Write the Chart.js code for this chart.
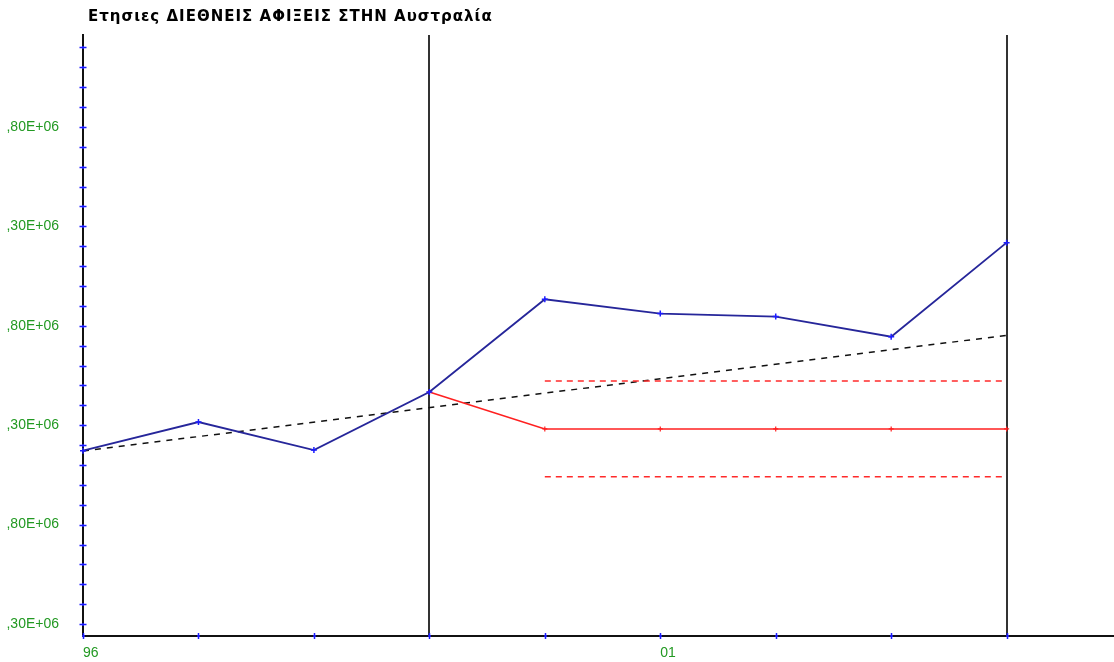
<!DOCTYPE html>
<html>
<head>
<meta charset="utf-8">
<script src="https://cdn.jsdelivr.net/npm/chart.js@4"></script>
<style>
  html, body { margin: 0; padding: 0; background: #fff; }
  #wrap { position: relative; width: 1114px; height: 662px; }
</style>
</head>
<body>
<div id="wrap"><canvas id="chart"></canvas></div>
<script>
// Annual international arrivals in Australia (persons)
const years      = [1996, 1997, 1998, 1999, 2000, 2001, 2002, 2003, 2004];
const arrivals   = [4172000, 4316000, 4175000, 4467000, 4933000, 4861000, 4846000, 4745000, 5218000];

// Forecast from 1999 onward, with its upper and lower bands
const forecastYears = [1999, 2000, 2001, 2002, 2003, 2004];
const forecast      = [4467000, 4281000, 4281000, 4281000, 4281000, 4281000];
const bandYears     = [2000, 2001, 2002, 2003, 2004];
const upperBand     = [4522000, 4522000, 4522000, 4522000, 4522000];
const lowerBand     = [4041000, 4041000, 4041000, 4041000, 4041000];

// Linear trend across the whole period
const trendYears = [1996, 2004];
const trend      = [4170000, 4752000];

// Vertical markers and labelled years
const markerYears = [1999, 2004];
const xTickLabels = { 1996: '96', 2001: '01' };

// Value-axis marks every 100 000, labelled every 500 000
const yTickValues = [3300000, 3400000, 3500000, 3600000, 3700000, 3800000, 3900000, 4000000,
                     4100000, 4200000, 4300000, 4400000, 4500000, 4600000, 4700000, 4800000,
                     4900000, 5000000, 5100000, 5200000, 5300000, 5400000, 5500000, 5600000,
                     5700000, 5800000, 5900000, 6000000, 6100000, 6200000];

const titleText = 'Ετησιες ΔΙΕΘΝΕΙΣ ΑΦΙΞΕΙΣ ΣΤΗΝ Αυστραλία';

const pts = (xs, ys) => xs.map((x, i) => ({ x: x, y: ys[i] }));

const TICK_BLUE = '#1c1cff';

// Title drawn at a fixed spot above the plot
const titlePlugin = {
  id: 'titleText',
  afterDraw(chart) {
    const ctx = chart.ctx;
    ctx.save();
    ctx.font = 'bold 15px "DejaVu Sans", sans-serif';
    if ('letterSpacing' in ctx) ctx.letterSpacing = '1px';
    ctx.fillStyle = '#000';
    ctx.textAlign = 'left';
    ctx.textBaseline = 'alphabetic';
    ctx.fillText(titleText, chart.chartArea.left + 5, 21);
    ctx.restore();
  }
};

// Vertical marker lines at selected years
const markerPlugin = {
  id: 'markers',
  beforeDatasetsDraw(chart) {
    const { ctx, chartArea, scales } = chart;
    ctx.save();
    ctx.strokeStyle = '#333';
    ctx.lineWidth = 2;
    markerYears.forEach(yr => {
      const x = Math.round(scales.x.getPixelForValue(yr));
      ctx.beginPath();
      ctx.moveTo(x, chartArea.top);
      ctx.lineTo(x, chartArea.bottom);
      ctx.stroke();
    });
    ctx.restore();
  }
};

// Small blue cross marks on both axes, plus edge trim of the value labels
const axisMarksPlugin = {
  id: 'axisMarks',
  afterDraw(chart) {
    const { ctx, chartArea, scales } = chart;
    ctx.save();
    // trim the far-left edge of the value labels
    ctx.fillStyle = '#fff';
    ctx.fillRect(0, chartArea.top, 7, chartArea.bottom - chartArea.top);

    ctx.strokeStyle = TICK_BLUE;
    ctx.lineWidth = 1.5;
    const ax = chartArea.left;
    scales.y.ticks.forEach(t => {
      const y = Math.round(scales.y.getPixelForValue(t.value)) + 0.5;
      ctx.beginPath();
      ctx.moveTo(ax - 3.5, y); ctx.lineTo(ax + 3.5, y);
      ctx.moveTo(ax, y - 1.5); ctx.lineTo(ax, y + 1.5);
      ctx.stroke();
    });
    const ay = chartArea.bottom;
    scales.x.ticks.forEach(t => {
      const x = Math.round(scales.x.getPixelForValue(t.value)) + 0.5;
      ctx.beginPath();
      ctx.moveTo(x, ay - 3); ctx.lineTo(x, ay + 3);
      ctx.moveTo(x - 1.5, ay); ctx.lineTo(x + 1.5, ay);
      ctx.stroke();
    });
    ctx.restore();
  }
};

const labelFont = { family: '"Liberation Sans", Arial, sans-serif', size: 14 };

new Chart(document.getElementById('chart'), {
  type: 'line',
  data: {
    datasets: [
      {
        label: 'Trend',
        data: pts(trendYears, trend),
        borderColor: '#111',
        borderWidth: 1.5,
        borderDash: [6, 6],
        pointRadius: 0,
        fill: false,
        clip: false,
        order: 4
      },
      {
        label: 'Upper',
        data: pts(bandYears, upperBand),
        borderColor: '#ff2a2a',
        borderWidth: 1.5,
        borderDash: [6, 5],
        pointRadius: 0,
        fill: false,
        clip: false,
        order: 3
      },
      {
        label: 'Lower',
        data: pts(bandYears, lowerBand),
        borderColor: '#ff2a2a',
        borderWidth: 1.5,
        borderDash: [6, 5],
        pointRadius: 0,
        fill: false,
        clip: false,
        order: 3
      },
      {
        label: 'Forecast',
        data: pts(forecastYears, forecast),
        borderColor: '#ff2020',
        borderWidth: 1.6,
        pointStyle: 'cross',
        pointRadius: 2.5,
        pointBorderWidth: 1.2,
        pointBorderColor: '#ff2020',
        fill: false,
        clip: false,
        order: 2
      },
      {
        label: 'Arrivals',
        data: pts(years, arrivals),
        borderColor: '#26269a',
        borderWidth: 1.9,
        pointStyle: 'cross',
        pointRadius: 3,
        pointBorderWidth: 1.5,
        pointBorderColor: TICK_BLUE,
        fill: false,
        clip: false,
        tension: 0,
        order: 1
      }
    ]
  },
  options: {
    responsive: true,
    maintainAspectRatio: false,
    animation: false,
    events: [],
    layout: { autoPadding: false, padding: { top: 35, left: 0, right: 0, bottom: 0 } },
    plugins: {
      legend: { display: false },
      title: { display: false },
      tooltip: { enabled: false }
    },
    scales: {
      x: {
        type: 'linear',
        min: 1996,
        max: 2004.93,
        grid: { display: false, drawTicks: false },
        border: { display: true, color: '#111', width: 2 },
        ticks: {
          autoSkip: false,
          maxRotation: 0,
          align: 'start',
          padding: 9,
          color: '#229922',
          font: labelFont,
          callback: v => xTickLabels[v] || ''
        },
        afterBuildTicks: s => { s.ticks = years.map(v => ({ value: v })); },
        afterFit: s => { s.height = 26; s.paddingLeft = 0; s.paddingRight = 0; }
      },
      y: {
        type: 'linear',
        min: 3240000,
        max: 6262000,
        grid: { display: false, drawTicks: false },
        border: { display: true, color: '#111', width: 2 },
        ticks: {
          autoSkip: false,
          padding: 24,
          color: '#229922',
          font: labelFont,
          callback: v => {
            const k = Math.round(v / 100000);
            return k % 5 === 3 ? (v / 1e6).toFixed(2).replace('.', ',') + 'E+06' : '';
          }
        },
        afterBuildTicks: s => { s.ticks = yTickValues.map(v => ({ value: v })); },
        afterFit: s => { s.width = 83; s.paddingTop = 0; s.paddingBottom = 0; }
      }
    }
  },
  plugins: [markerPlugin, axisMarksPlugin, titlePlugin]
});
</script>
</body>
</html>
